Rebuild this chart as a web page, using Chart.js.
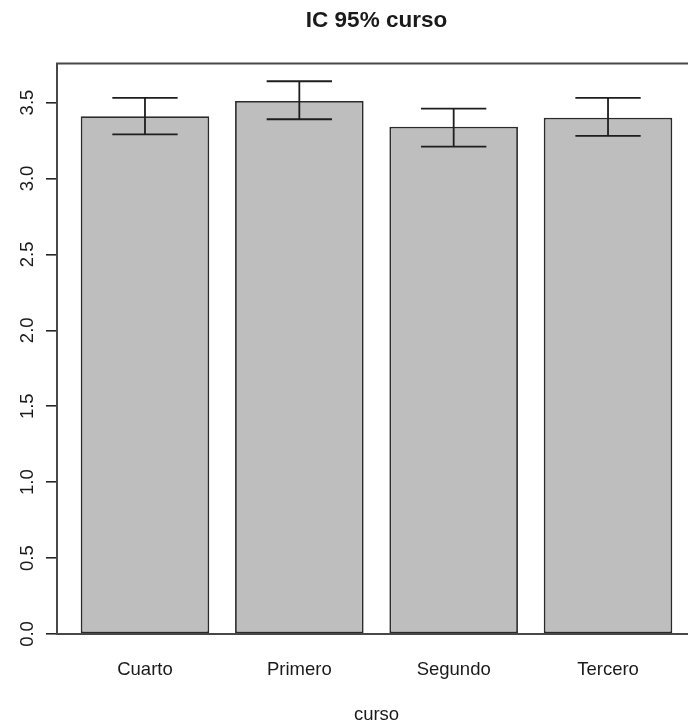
<!DOCTYPE html>
<html>
<head>
<meta charset="utf-8">
<script src="https://cdn.jsdelivr.net/npm/chart.js@4/dist/chart.umd.min.js"></script>
<style>
  html, body { margin: 0; padding: 0; background: #fff; overflow: hidden; }
  #wrap { width: 696px; height: 727px; }
</style>
</head>
<body>
<div id="wrap"><canvas id="chart" width="696" height="727"></canvas></div>
<script>
const categories = ["Cuarto", "Primero", "Segundo", "Tercero"];
const means = [3.41, 3.51, 3.34, 3.40];
const lower = [3.29, 3.39, 3.21, 3.28];
const upper = [3.53, 3.64, 3.46, 3.53];
const yTicks = [0.0, 0.5, 1.0, 1.5, 2.0, 2.5, 3.0, 3.5];

const FONT = "'Liberation Sans', Arial, sans-serif";
const INK = "#1a1a1a";

// R-style box round the plot region
const boxPlugin = {
  id: "box",
  afterDatasetsDraw(chart){
    const a = chart.chartArea;
    const ctx = chart.ctx;
    ctx.save();
    ctx.strokeStyle = "#484848";
    ctx.lineWidth = 2;
    ctx.strokeRect(a.left, a.top, a.right - a.left, a.bottom - a.top);
    ctx.restore();
  }
};

// confidence interval whiskers, drawn from the y scale
const errorBars = {
  id: "errorBars",
  afterDatasetsDraw(chart){
    const ctx = chart.ctx;
    const y = chart.scales.y;
    const meta = chart.getDatasetMeta(0);
    ctx.save();
    ctx.strokeStyle = "#1e1e1e";
    ctx.lineWidth = 1.8;
    meta.data.forEach((bar, i) => {
      const yLo = y.getPixelForValue(lower[i]);
      const yHi = y.getPixelForValue(upper[i]);
      const half = bar.width * 0.254;
      ctx.beginPath();
      ctx.moveTo(bar.x, yLo); ctx.lineTo(bar.x, yHi);
      ctx.moveTo(bar.x - half, yHi); ctx.lineTo(bar.x + half, yHi);
      ctx.moveTo(bar.x - half, yLo); ctx.lineTo(bar.x + half, yLo);
      ctx.stroke();
    });
    ctx.restore();
  }
};

new Chart(document.getElementById("chart"), {
  type: "bar",
  data: {
    datasets: [{
      label: "curso",
      data: categories.map((c, i) => ({ x: i, y: means[i] })),
      backgroundColor: "#bebebe",
      borderColor: "#2a2a2a",
      borderWidth: 1.8,
      borderSkipped: false,
      barPercentage: 0.833,
      categoryPercentage: 1
    }]
  },
  options: {
    responsive: false,
    animation: false,
    events: [],
    layout: { padding: 0 },
    plugins: {
      legend: { display: false },
      tooltip: { enabled: false },
      title: {
        display: true,
        fullSize: false,
        text: "IC 95% curso",
        color: INK,
        font: { family: FONT, size: 22.5, weight: "bold" },
        padding: { top: 7.5, bottom: 29 }
      }
    },
    scales: {
      x: {
        type: "linear",
        offset: false,
        bounds: "ticks",
        min: -0.57,
        max: 3.57,
        afterBuildTicks: (s) => { s.ticks = categories.map((c, i) => ({ value: i })); },
        afterFit: (s) => { s.height = 93; },
        grid: { display: false },
        border: { display: false },
        ticks: {
          callback: (v) => categories[v],
          color: INK,
          font: { family: FONT, size: 18.5 },
          padding: 17,
          maxRotation: 0,
          autoSkip: false
        },
        title: {
          display: true,
          text: "curso",
          color: INK,
          font: { family: FONT, size: 18.5 },
          padding: { top: 0, bottom: 1 }
        }
      },
      y: {
        min: 0,
        max: 3.757,
        afterBuildTicks: (s) => { s.ticks = yTicks.map(v => ({ value: v })); },
        afterFit: (s) => { s.width = 57; },
        grid: {
          drawOnChartArea: false,
          drawTicks: true,
          tickLength: 11,
          tickColor: "#262626",
          lineWidth: 1.6
        },
        border: { display: false },
        ticks: {
          callback: (v) => v.toFixed(1),
          color: INK,
          font: { family: FONT, size: 18.5 },
          minRotation: 90,
          maxRotation: 90,
          crossAlign: "center",
          padding: 5
        }
      }
    }
  },
  plugins: [boxPlugin, errorBars]
});
</script>
</body>
</html>
